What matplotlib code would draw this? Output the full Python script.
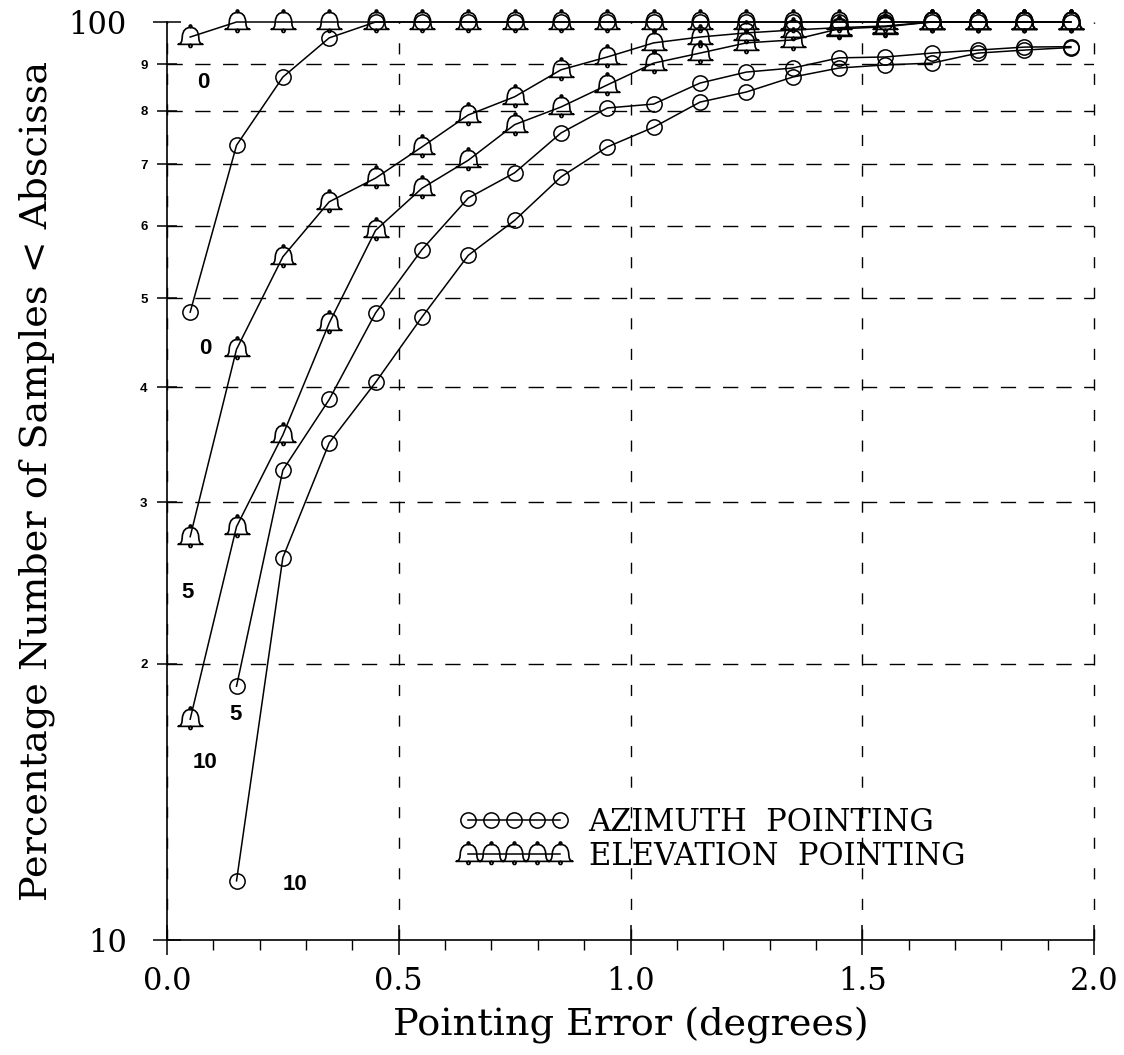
import matplotlib
matplotlib.use("Agg")
import matplotlib.pyplot as plt
from matplotlib.path import Path
import numpy as np

plt.rcParams['font.family'] = 'DejaVu Serif'

# pointing error bins (deg)
x = [0.05, 0.15, 0.25, 0.35, 0.45, 0.55, 0.65, 0.75, 0.85, 0.95,
     1.05, 1.15, 1.25, 1.35, 1.45, 1.55, 1.65, 1.75, 1.85, 1.95]

# azimuth curves (circles)
az_0 = [48.3, 73.4, 87.1, 96.1, 100, 100, 100, 100, 100, 100,
        100, 100, 100, 100, 100, 100, 100, 100, 100, 100]
az_5 = [18.9, 32.5, 38.8, 48.2, 56.5, 64.3, 68.5, 75.7, 80.6,
        81.4, 85.8, 88.2, 89.1, 91.4, 91.6, 92.5, 93.2, 93.9, 94.0]
az_10 = [11.6, 26.1, 34.8, 40.5, 47.7, 55.7, 60.8, 67.8, 73.1,
         76.8, 81.8, 83.9, 87.1, 89.1, 89.8, 90.2, 92.5, 93.2, 93.8]

# elevation curves (bells)
el_0 = [96.3, 100, 100, 100, 100, 100, 100, 100, 100, 100,
        100, 100, 100, 100, 100, 100, 100, 100, 100, 100]
el_5 = [27.5, 44.0, 55.5, 63.7, 67.6, 73.1, 79.2, 82.9, 88.7, 91.6,
        94.9, 96.3, 97.3, 98.0, 98.6, 99.0, 100, 100, 100, 100]
el_10 = [17.4, 28.2, 35.5, 47.0, 59.3, 65.9, 70.7, 77.3, 80.8, 85.4,
         90.2, 92.5, 94.9, 95.6, 98.3, 98.8, 100, 100, 100, 100]

# curve tags: (text, x, y)
tags = [("0", 0.078, 86.0), ("0", 0.082, 44.1), ("5", 0.045, 23.9),
        ("10", 0.082, 15.6), ("5", 0.147, 17.6), ("10", 0.277, 11.5)]

xticks = [0.0, 0.5, 1.0, 1.5, 2.0]
xticklabels = ["0.0", "0.5", "1.0", "1.5", "2.0"]
yminor = [20, 30, 40, 50, 60, 70, 80, 90]
yminor_labels = ["2", "3", "4", "5", "6", "7", "8", "9"]


def bell_marker():
    C = Path.CURVE4
    verts = [(-1.0, -0.55),
             (-0.72, -0.5), (-0.68, -0.3), (-0.66, 0.05),
             (-0.62, 0.6), (-0.35, 0.8), (0.0, 0.8),
             (0.35, 0.8), (0.62, 0.6), (0.66, 0.05),
             (0.68, -0.3), (0.72, -0.5), (1.0, -0.55),
             (-1.0, -0.55), (-1.0, -0.55)]
    codes = [Path.MOVETO, C, C, C, C, C, C, C, C, C, C, C, C,
             Path.LINETO, Path.CLOSEPOLY]
    outline = Path(verts, codes)
    knob = Path.circle((0, 0.9), 0.1)
    clapper = Path.circle((0, -0.68), 0.12)
    return Path.make_compound_path(outline, knob, clapper)


bell = bell_marker()

fig = plt.figure(figsize=(11.24, 10.55), dpi=100)
ax = fig.add_axes([167 / 1124, 1 - 940 / 1055, 927 / 1124, 918 / 1055])

circ = dict(marker='o', ms=11, mfc='none', mec='black', mew=1.1,
            color='black', lw=1.1, clip_on=False)
bel = dict(marker=bell, ms=18, mfc='none', mec='black', mew=1.2,
           color='black', lw=1.1, clip_on=False)

l_az, = ax.plot(x, az_0, label='AZIMUTH  POINTING', **circ)
ax.plot(x[1:], az_5, **circ)
ax.plot(x[1:], az_10, **circ)
l_el, = ax.plot(x, el_0, label='ELEVATION  POINTING', **bel)
ax.plot(x, el_5, **bel)
ax.plot(x, el_10, **bel)

for t, tx, ty in tags:
    ax.text(tx, ty, t, ha='center', va='center', fontsize=16,
            fontweight='bold', family='Liberation Sans')

ax.set_yscale('log')
ax.set_xlim(0, 2.0)
ax.set_ylim(10, 100)

ax.set_xticks(xticks, xticklabels, fontsize=22)
ax.set_xticks(np.arange(0.1, 2.0, 0.1), minor=True)
ax.set_yticks([10, 100], ["10", "100"], fontsize=22)
ax.set_yticks(yminor, yminor_labels, minor=True, fontsize=9.5,
              fontweight='bold', family='Liberation Sans')

ax.tick_params(axis='x', which='major', direction='inout', length=21,
               width=1.1, pad=8)
ax.tick_params(axis='x', which='minor', direction='out', length=7,
               width=1.0)
ax.tick_params(axis='y', which='major', direction='inout', length=20,
               width=1.1, pad=19)
ax.tick_params(axis='y', which='minor', direction='inout', length=14,
               width=1.1, pad=7)

ax.grid(True, axis='x', which='major', color='black', lw=1.0,
        linestyle=(0, (8, 14)))
ax.grid(True, axis='y', which='minor', color='black', lw=1.0,
        linestyle=(0, (11, 9)))
ax.grid(False, axis='y', which='major')
for gl in ax.get_xgridlines():
    gl.set_clip_on(False)

for s in ['top', 'right']:
    ax.spines[s].set_visible(False)
for s in ['left', 'bottom']:
    ax.spines[s].set_linewidth(1.2)

ax.set_xlabel('Pointing Error (degrees)', fontsize=27.5, va='center')
ax.xaxis.set_label_coords(0.5, -0.0926)
ax.set_ylabel('Percentage Number of Samples < Abscissa', fontsize=27.5,
              va='center')
ax.yaxis.set_label_coords(-0.140, 0.5)

ax.legend(handles=[l_az, l_el], loc='upper left',
          bbox_to_anchor=(0.315, 0.145), frameon=False, fontsize=22,
          numpoints=5, handlelength=3.62, handletextpad=0.62,
          labelspacing=0.1, borderpad=0, borderaxespad=0)

fig.savefig('out.png', dpi=100)
